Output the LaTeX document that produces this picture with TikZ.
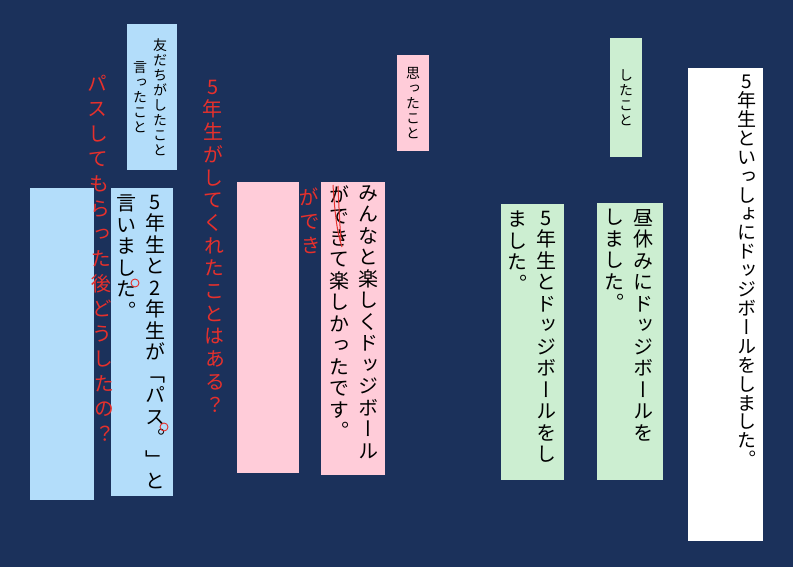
\documentclass[tikz,border=0pt]{standalone}
\usepackage{fontspec}
\newfontfamily\jpfont[RawFeature=+vert]{Noto Sans CJK JP}
\usetikzlibrary{positioning}
\definecolor{BoardNavy}{RGB}{27,49,91}
\definecolor{NoteBlue}{RGB}{179,221,250}
\definecolor{NotePink}{RGB}{255,204,217}
\definecolor{NoteGreen}{RGB}{204,238,209}
\definecolor{PenRed}{RGB}{230,48,44}

% one character per row, rows \baselineskip apart
\newcommand\tcol[1]{\vbox{\lineskiplimit=-1000pt\lineskip=0pt\tcolgo#1\relax}}
\def\tcolgo#1{\ifx\relax#1\else\hbox to 1em{\hss#1\hss}\expandafter\tcolgo\fi}

\begin{document}
\begin{tikzpicture}[x=1pt, y=-1pt,
  panel/.style={anchor=north west, inner sep=0pt, outer sep=0pt},
  headtext/.style={font=\jpfont\fontsize{14}{15}\selectfont},
  bodytext/.style={anchor=north, inner sep=0pt, font=\jpfont\fontsize{20}{21.5}\selectfont},
  pennote/.style={inner sep=0pt, text=PenRed, font=\jpfont\fontsize{20}{24}\selectfont}]

  % Board
  \fill[BoardNavy] (0,0) rectangle (793,567);

  % Paper strips
  \node[panel, fill=white, minimum width=75, minimum height=473] (whiteBox) at (688,68) {};

  \node[panel, headtext, fill=NoteGreen, minimum width=32, minimum height=119]
        (didHead) at (610,38) {\tcol{したこと}};
  \node[panel, fill=NoteGreen, minimum width=66, minimum height=277] (didA) at (597,203) {};
  \node[panel, fill=NoteGreen, minimum width=63, minimum height=276] (didB) at (501,204) {};

  \node[panel, headtext, fill=NotePink, minimum width=32, minimum height=96]
        (thoughtHead) at (397,55) {\tcol{思ったこと}};
  \node[panel, fill=NotePink, minimum width=64, minimum height=293] (thoughtA) at (321,182) {};
  \node[panel, fill=NotePink, minimum width=62, minimum height=291] (thoughtB) at (237,182) {};

  \node[panel, fill=NoteBlue, minimum width=50, minimum height=146] (friendHead) at (127,24) {};
  \node[panel, fill=NoteBlue, minimum width=62, minimum height=308] (friendA) at (111,188) {};
  \node[panel, fill=NoteBlue, minimum width=64, minimum height=312] (friendB) at (30,188) {};

  % Written lines (right to left)
  \node[bodytext, font=\jpfont\fontsize{19}{18.9}\selectfont] (whiteText) at (747,75)
        {\tcol{5年生といっしょにドッジボールをしました。}};

  \node[bodytext] (didA1) at (643,209) {\tcol{昼休みにドッジボールを}};
  \node[bodytext, left=8 of didA1.north west, anchor=north east] (didA2) {\tcol{しました。}};

  \node[bodytext] (didB1) at (546,211) {\tcol{5年生とドッジボールをし}};
  \node[bodytext, left=8 of didB1.north west, anchor=north east] (didB2) {\tcol{ました。}};

  \node[bodytext] (thoughtA1) at (368,185) {\tcol{みんなと楽しくドッジボール}};
  \node[bodytext, left=8 of thoughtA1.north west, anchor=north east] (thoughtA2)
        {\tcol{ができて楽しかったです。}};

  \node[bodytext] (friendA1) at (155,195) {\tcol{5年生と2年生が「パス。」と}};
  \node[bodytext, left=8 of friendA1.north west, anchor=north east] (friendA2)
        {\tcol{言いました。}};

  \node[headtext, inner sep=0pt] (friendHead1) at (160,97) {\tcol{友だちがしたこと}};
  \node[headtext, inner sep=0pt] (friendHead2) at (140,97) {\tcol{言ったこと}};

  % Red pen remarks
  \node[pennote, rotate=1.3, font=\jpfont\fontsize{20}{25}\selectfont] (penPass) at (101,258)
        {\tcol{パスしてもらった後どうしたの？}};
  \node[pennote, rotate=0.5, font=\jpfont\fontsize{20}{22.7}\selectfont] (penFifth) at (214,246)
        {\tcol{5年生がしてくれたことはある？}};
  \node[pennote, rotate=3] (penFix) at (310,221) {\tcol{ができ}};

  \draw[PenRed, line width=1pt]
        (333,185) .. controls (335,215) and (337,232) .. (342,247)
        (338,186) .. controls (339,210) and (340,228) .. (341,240);
  \draw[PenRed, line width=0.9pt] (135,283) circle[radius=4];
  \draw[PenRed, line width=0.9pt] (164,427) circle[radius=4];

\end{tikzpicture}
\end{document}
